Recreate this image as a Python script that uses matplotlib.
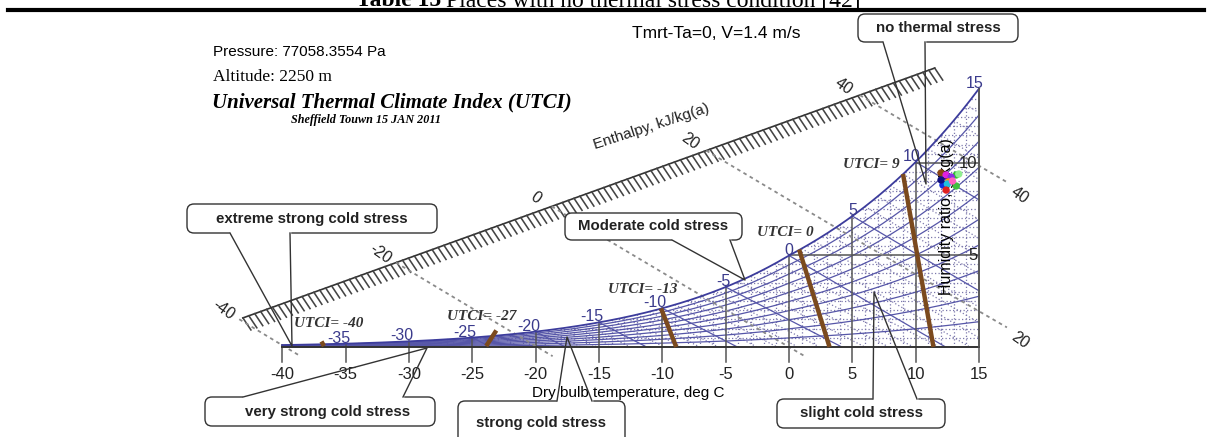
import numpy as np
import matplotlib.pyplot as plt
from matplotlib.patches import FancyBboxPatch

plt.rcParams['font.family'] = ['Liberation Sans', 'DejaVu Sans']
SERIF = ['Liberation Serif', 'DejaVu Serif']

# ---- chart data -------------------------------------------------------
pressure = 77058.3554          # Pa, site pressure printed on the chart

db_ticks = [-40, -35, -30, -25, -20, -15, -10, -5, 0, 5, 10, 15]
sat_labels = [-35, -30, -25, -20, -15, -10, -5, 0, 5, 10, 15]
w_ticks = [5, 10]
rh_levels = [10, 20, 30, 40, 50, 60, 70, 80, 90]
h_levels = [-40, -20, 0, 20, 40]
h_right = [20, 40]

# UTCI boundary lines (dry bulb degC / humidity ratio g/kg)
utci_names = ['UTCI= -40', 'UTCI= -27', 'UTCI= -13', 'UTCI= 0', 'UTCI= 9']
utci_t_top = [-36.9, -23.1, -10.1, 0.8, 9.0]
utci_w_top = [0.30, 0.90, 2.10, 5.30, 9.40]
utci_t_bot = [-36.7, -23.9, -8.9, 3.2, 11.4]
utci_w_bot = [0.05, 0.05, 0.0, 0.0, 0.0]
utci_lab_t = [-39.1, -27.0, -14.3, -2.5, 4.3]
utci_lab_w = [1.30, 1.68, 3.10, 6.20, 9.90]

# observed points (coloured cluster near the top right)
obs_t = [12.0, 12.4, 13.2, 13.4, 12.8, 12.6, 12.15, 12.5, 12.4, 13.2, 12.0, 12.9]
obs_w = [9.46, 9.35, 9.35, 9.40, 9.24, 8.97, 8.80, 8.86, 8.53, 8.75, 9.08, 9.02]
obs_c = ['#8b4513', '#e020e0', '#30c030', '#90ee90', '#8a2be2', '#ff9900',
         '#1030e0', '#20c0e0', '#e02020', '#40c040', '#101080', '#ff60c0']


# ---- psychrometrics --------------------------------------------------
def p_sat(t):
    t = np.asarray(t, float)
    return np.where(t >= 0, 611.2 * np.exp(17.62 * t / (243.12 + t)),
                    611.2 * np.exp(22.46 * t / (272.62 + t)))


def wsat(t):
    ps = p_sat(t)
    return 622.0 * ps / (pressure - ps)


def w_rh(t, rh):
    pv = p_sat(t) * rh / 100.0
    return 622.0 * pv / (pressure - pv)


def w_wetbulb(twb, t):
    ws = wsat(twb) / 1000.0
    if twb >= 0:
        w = ((2501 - 2.326 * twb) * ws - 1.006 * (t - twb)) / (2501 + 1.86 * t - 4.186 * twb)
    else:
        w = ((2830 - 0.24 * twb) * ws - 1.006 * (t - twb)) / (2830 + 1.86 * t - 2.1 * twb)
    return w * 1000.0


def w_enth(h, t):
    return (h - 1.006 * t) / (2501 + 1.86 * t) * 1000.0


# pixel <-> data mapping of the picture
PX0, KX, PY0, KY = 789.0, 12.67, 347.0, 18.4
W_PX, H_PX = 1213, 437

fig = plt.figure(figsize=(W_PX / 100, H_PX / 100), dpi=100)
ax = fig.add_axes([0, 0, 1, 1])
ax.set_xlim(-PX0 / KX, (W_PX - PX0) / KX)
ax.set_ylim((PY0 - H_PX) / KY, PY0 / KY)
ax.axis('off')

ov = fig.add_axes([0, 0, 1, 1], zorder=5)
ov.set_xlim(0, W_PX)
ov.set_ylim(H_PX, 0)
ov.axis('off')
ov.patch.set_alpha(0)

BLUE = '#5656a8'
DOT = '#7c78ac'
GREY = '#555555'

tt = np.linspace(-40, 15, 600)
wsat_tt = wsat(tt)


def t_of_wsat(w):
    return np.interp(w, wsat_tt, tt)


# fine dotted grid
dot_style = dict(color=DOT, lw=0.9, ls=(0, (1, 1.8)), zorder=1)
for t in np.arange(-40, 16, 1):
    if t % 5:
        ax.plot([t, t], [0, wsat(t)], **dot_style)
for w in np.arange(0.5, 14.1, 0.5):
    if w % 5:
        ax.plot([t_of_wsat(w), 15], [w, w], **dot_style)
for twb in np.arange(-40, 15, 1):
    if twb % 5:
        t_line = np.linspace(twb, 15, 120)
        w_line = w_wetbulb(twb, t_line)
        keep = w_line >= 0
        ax.plot(t_line[keep], w_line[keep], **dot_style)

# blue relative humidity curves and wet bulb lines
for rh in rh_levels:
    ax.plot(tt, w_rh(tt, rh), color=BLUE, lw=0.9, zorder=2)
for twb in np.arange(-40, 15, 5):
    t_line = np.linspace(twb, 15, 150)
    w_line = w_wetbulb(twb, t_line)
    keep = w_line >= 0
    ax.plot(t_line[keep], w_line[keep], color=BLUE, lw=0.9, zorder=2)
ax.plot(tt, wsat_tt, color='#3c3c9c', lw=1.3, zorder=3)

# solid dry bulb and humidity lines, axis ticks
for t in db_ticks:
    ax.plot([t, t], [-0.8, wsat(t)], color=GREY, lw=1.1, zorder=2)
    ax.text(t, -1.52, f'{t}', ha='center', va='center', fontsize=12, color='#222222')
for w in w_ticks:
    ax.plot([t_of_wsat(w), 15], [w, w], color=GREY, lw=1.1, zorder=2)
    ax.text(14.85, w, f'{w}', ha='right', va='center', fontsize=12, color='#222222', zorder=4)
ax.plot([-40, 15], [0, 0], color='#333333', lw=1.4, zorder=3)
ax.plot([15, 15], [0, wsat(15)], color=GREY, lw=1.2, zorder=3)

for t in sat_labels:
    ax.text(t + 0.35, wsat(t) + 0.05, f'{t}', ha='right', va='baseline',
            fontsize=11.5, color='#3a3a8c', zorder=4)

ax.text((628 - PX0) / KX, (PY0 - 393) / KY, 'Dry bulb temperature, deg C',
        ha='center', va='center', fontsize=11)
ax.text(12.4, (PY0 - 217) / KY, 'Humidity ratio, g/kg(a)', rotation=90, ha='center',
        va='center', fontsize=11.5, zorder=4)

# enthalpy scale
sa = np.array([-43.1, 1.58])
sb = np.array([11.5, 15.16])
ax.plot([sa[0], sb[0]], [sa[1], sb[1]], color='#333333', lw=1.2)
for f in np.linspace(0, 1, 118):
    p = sa + f * (sb - sa)
    ax.plot([p[0], p[0] + 8 / KX], [p[1], p[1] - 12 / KY], color='#444444', lw=1.15)
slope = (sb[1] - sa[1]) / (sb[0] - sa[0])
t_scan = np.linspace(-46, 14, 6001)
for h in h_levels:
    gap = np.abs(w_enth(h, t_scan) - (sa[1] + slope * (t_scan - sa[0])))
    t_int = t_scan[np.argmin(gap)]
    w_int = w_enth(h, t_int)
    if h in h_right:
        t_end = 17.2
    else:
        t_end = (h + 0.5e-3 * 2501) / (1.006 - 0.5e-3 * 1.86)
    t_line = np.linspace(t_int, t_end, 50)
    ax.plot(t_line, w_enth(h, t_line), color='#8a8a8a', lw=1.3, ls=(0, (2, 2)), zorder=2)
    ax.text(t_int - 16 / KX, w_int + 9 / KY, f'{h}', rotation=-35, ha='center',
            va='center', fontsize=11.5, color='#222222')
    if h in h_right:
        ax.text(18.2, w_enth(h, 18.2) - 6 / KY, f'{h}', rotation=-35, ha='center',
                va='center', fontsize=11.5, color='#222222')
ax.text((651 - PX0) / KX, (PY0 - 127) / KY, 'Enthalpy, kJ/kg(a)', rotation=18,
        ha='center', va='center', fontsize=11, color='#222222')

# UTCI lines
for name, t0, w0, t1, w1, lt, lw_ in zip(utci_names, utci_t_top, utci_w_top,
                                         utci_t_bot, utci_w_bot, utci_lab_t, utci_lab_w):
    ax.plot([t0, t1], [w0, w1], color='#7b4a1e', lw=3.2, solid_capstyle='butt', zorder=5)
    ax.text(lt, lw_, name, ha='left', va='center', fontsize=11, style='italic',
            fontweight='bold', color='#333333', family=SERIF, zorder=5)

ax.scatter(obs_t, obs_w, s=28, c=obs_c, edgecolors='none', zorder=6)

# header texts
ov.text(441, 6.5, 'Table 15', ha='right', va='baseline', fontsize=17,
        fontweight='bold', family=SERIF)
ov.text(446, 6.5, 'Places with no thermal stress condition [42]', ha='left',
        va='baseline', fontsize=17, family=SERIF)
ov.plot([8, 1204], [9.5, 9.5], color='black', lw=3)
ov.text(213, 52, 'Pressure: 77058.3554 Pa', ha='left', va='center', fontsize=11)
ov.text(213, 77, 'Altitude: 2250 m', ha='left', va='center', fontsize=12.5, family=SERIF)
ov.text(212, 102, 'Universal Thermal Climate Index (UTCI)', ha='left', va='center',
        fontsize=15, fontweight='bold', style='italic', family=SERIF)
ov.text(366, 120, 'Sheffield Touwn 15 JAN 2011', ha='center', va='center',
        fontsize=8.7, fontweight='bold', style='italic', family=SERIF)
ov.text(716, 33, 'Tmrt-Ta=0, V=1.4 m/s', ha='center', va='center', fontsize=12.5)


def callout(text, box, base, tip, text_xy=None):
    x0, y0, x1, y1 = box
    ov.add_patch(FancyBboxPatch((x0, y0), x1 - x0, y1 - y0,
                                boxstyle='round,pad=0,rounding_size=7',
                                fc='white', ec='#333333', lw=1.0, zorder=6))
    (bx0, by), (bx1, _) = base
    ov.plot([bx0 + 1, bx1 - 1], [by, by], color='white', lw=2.5, zorder=7)
    ov.plot([bx0, tip[0], bx1], [by, tip[1], by], color='#333333', lw=1.0, zorder=7)
    if text_xy is None:
        text_xy = ((x0 + x1) / 2, (y0 + y1) / 2)
    ov.text(text_xy[0], text_xy[1], text, ha='center', va='center', fontsize=10.8,
            fontweight='bold', color='#222222', zorder=8)


callout('no thermal stress', (858, 14, 1018, 42), ((883, 42), (925, 42)), (926, 184),
        text_xy=(938, 28))
callout('extreme strong cold stress', (187, 204, 437, 233), ((230, 233), (290, 233)), (292, 346))
callout('very strong cold stress', (205, 397, 435, 426), ((243, 397), (403, 397)), (427, 348),
        text_xy=(328, 412))
callout('strong cold stress', (458, 401, 625, 447), ((557, 401), (592, 401)), (567, 337),
        text_xy=(541, 423))
callout('Moderate cold stress', (565, 213, 742, 240), ((672, 240), (730, 240)), (745, 280))
callout('slight cold stress', (777, 399, 945, 428), ((873, 399), (917, 399)), (874, 292))

fig.savefig('out.png', dpi=100)
